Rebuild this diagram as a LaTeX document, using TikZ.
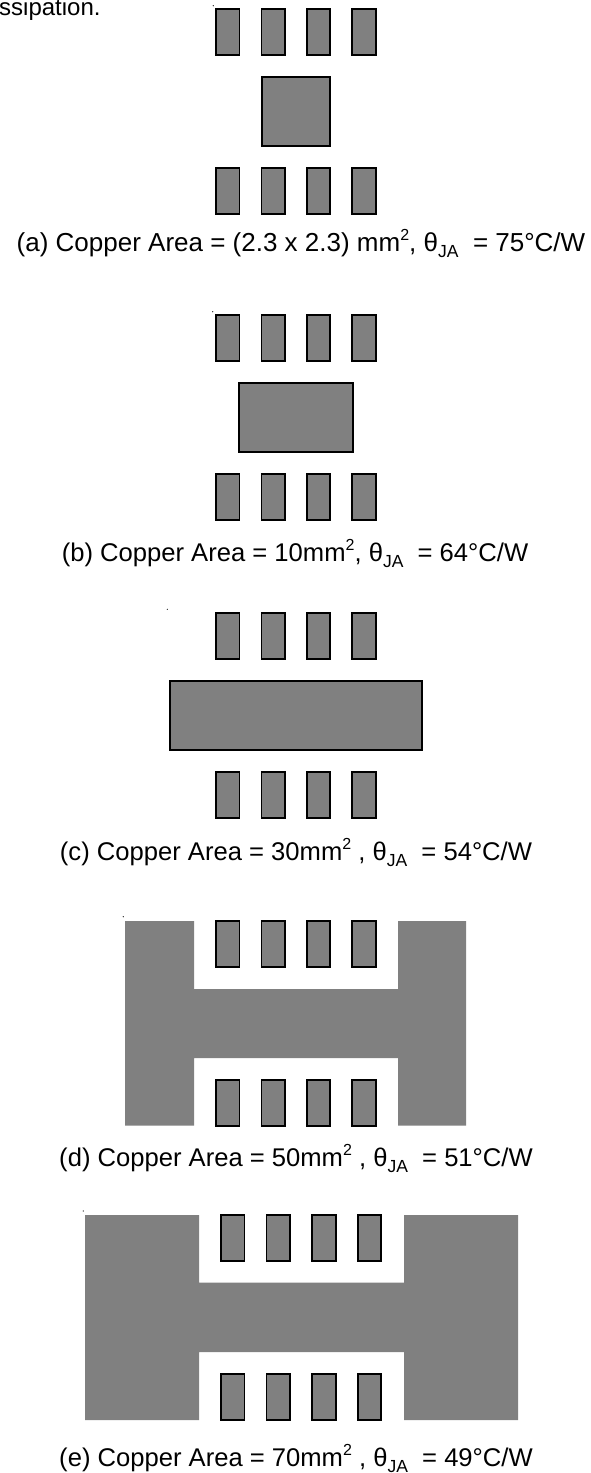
\documentclass[tikz,border=0pt]{standalone}
\usepackage{fontspec}
\setmainfont{Liberation Sans}
\definecolor{padgray}{RGB}{128,128,128}
\tikzset{
  pad/.style={fill=padgray,draw=black,line width=1.7pt},
  copper/.style={fill=padgray,draw=none},
  captext/.style={anchor=base,inner sep=0pt,font=\fontsize{26}{30}\selectfont},
  captextb/.style={anchor=base,inner sep=0pt,font=\fontsize{25.6}{30}\selectfont},
  speck/.style={fill=black,draw=none}
}
\newcommand\sqr{\raisebox{0.42em}{\fontsize{16}{16}\selectfont 2}}
\newcommand\subJA{\raisebox{-0.24em}{\fontsize{17.5}{17.5}\selectfont JA}}
\newcommand\padrow[4]{% x start, pitch, y top, y bottom
  \foreach \i in {0,...,3} {\draw[pad] ({#1+\i*#2},#3) rectangle ({#1+\i*#2+23.5},#4);}}
\begin{document}
\begin{tikzpicture}[x=1pt,y=-1pt]
\useasboundingbox (0,0) rectangle (591,1473);
% top fragment of text
\node[anchor=base west,inner sep=0pt,font=\fontsize{24}{28}\selectfont] (frag) at (-1,15.5) {ssipation.};
% (a)
\fill[speck] (213.3,5.7) circle (0.6);
\padrow{216}{45.4}{9.3}{55}
\draw[pad] (261.7,77.3) rectangle (330,146);
\padrow{216}{45.4}{168.3}{213.7}
\node[captext] (capa) at (301,251) {(a) Copper Area = (2.3 x 2.3) mm\sqr, θ\subJA\ \ = 75°C/W};
% (b)
\fill[speck] (212.7,311.7) circle (0.6);
\padrow{216}{45.4}{315}{361}
\draw[pad] (239,382.7) rectangle (352.7,451.7);
\padrow{216}{45.4}{474}{520}
\node[captextb] (capb) at (295,561) {(b) Copper Area = 10mm\sqr, θ\subJA\ \ = 64°C/W};
% (c)
\fill[speck] (167.3,609.3) circle (0.6);
\padrow{216}{45.4}{613.3}{659.3}
\draw[pad] (170.3,680.7) rectangle (421.7,750);
\padrow{216}{45.4}{772.3}{818.3}
\node[captextb] (capc) at (296,860) {(c) Copper Area = 30mm\sqr\ , θ\subJA\ \ = 54°C/W};
% (d)
\fill[speck] (123.3,916.7) circle (0.6);
\fill[copper] (125,921) -- (194,921) -- (194,989) -- (398,989) -- (398,921) -- (466,921)
  -- (466,1125.7) -- (398,1125.7) -- (398,1058) -- (194,1058) -- (194,1125.7) -- (125,1125.7) -- cycle;
\padrow{216}{45.4}{920.7}{966.7}
\padrow{216}{45.4}{1079.7}{1125.7}
\node[captextb] (capd) at (296,1166) {(d) Copper Area = 50mm\sqr\ , θ\subJA\ \ = 51°C/W};
% (e)
\fill[speck] (83.3,1211) circle (0.6);
\fill[copper] (85,1215) -- (199,1215) -- (199,1282.7) -- (404,1282.7) -- (404,1215) -- (518,1215)
  -- (518,1420) -- (404,1420) -- (404,1352) -- (199,1352) -- (199,1420) -- (85,1420) -- cycle;
\padrow{221}{45.6}{1215}{1261}
\padrow{221}{45.6}{1374}{1420}
\node[captextb] (cape) at (296,1466) {(e) Copper Area = 70mm\sqr\ , θ\subJA\ \ = 49°C/W};
\end{tikzpicture}
\end{document}
